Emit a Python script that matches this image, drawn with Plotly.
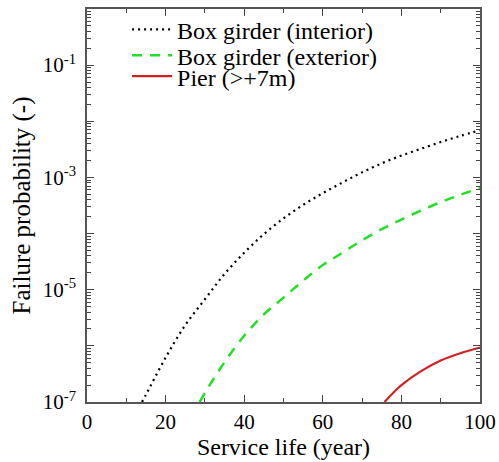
import plotly.graph_objects as go

# Service life (year) and failure probability (-)
years_interior = [14, 15, 20, 25, 30, 35, 40, 45, 50, 55, 60, 65, 70, 75, 80, 85, 90, 95, 100]
pf_interior = [1.0e-7, 1.35e-7, 6.17e-7, 2.34e-6, 6.76e-6, 1.91e-5, 4.57e-5, 9.77e-5, 1.86e-4,
               3.24e-4, 5.25e-4, 8.13e-4, 1.23e-3, 1.78e-3, 2.45e-3, 3.24e-3, 4.27e-3, 5.50e-3, 6.92e-3]

years_exterior = [28.7, 30, 35, 40, 45, 50, 55, 60, 65, 70, 75, 80, 85, 90, 95, 100]
pf_exterior = [1.0e-7, 1.45e-7, 5.13e-7, 1.51e-6, 3.63e-6, 7.24e-6, 1.45e-5, 2.75e-5, 4.57e-5,
               7.59e-5, 1.20e-4, 1.78e-4, 2.57e-4, 3.63e-4, 4.90e-4, 6.46e-4]

years_pier = [75.7, 78, 80, 85, 90, 95, 100]
pf_pier = [1.0e-7, 1.48e-7, 2.0e-7, 3.55e-7, 5.5e-7, 7.4e-7, 9.3e-7]

names = ["Box girder (interior)", "Box girder (exterior)", "Pier (>+7m)"]

y_tickvals = [1e-7, 1e-6, 1e-5, 1e-4, 1e-3, 1e-2, 1e-1, 1]
y_ticktext = ["10<sup>-7</sup>", "", "10<sup>-5</sup>", "", "10<sup>-3</sup>", "", "10<sup>-1</sup>", ""]
x_tickvals = [0, 20, 40, 60, 80, 100]

FONT = "Liberation Serif, Times New Roman, serif"

fig = go.Figure()
fig.add_trace(go.Scatter(x=years_interior, y=pf_interior, mode="lines", name=names[0],
                         legend="legend",
                         line=dict(color="black", width=2.2, dash="2px,4px", shape="spline")))
fig.add_trace(go.Scatter(x=years_exterior, y=pf_exterior, mode="lines", name=names[1],
                         legend="legend2",
                         line=dict(color="#22e022", width=2.5, dash="10px,8px", shape="spline")))
fig.add_trace(go.Scatter(x=years_pier, y=pf_pier, mode="lines", name=names[2],
                         legend="legend3",
                         line=dict(color="#d42020", width=2.2, shape="spline")))

minor_y = [m * 10.0 ** e for e in range(-7, 0) for m in range(2, 10)]

axis_common = dict(showgrid=False, zeroline=False, showline=True, linecolor="#555555",
                   linewidth=1.5, mirror="ticks", ticks="inside", tickcolor="#444444",
                   tickfont=dict(family=FONT, size=21, color="black"))

fig.update_xaxes(range=[0, 100], tickvals=x_tickvals, ticklen=7, tickwidth=1.2,
                 minor=dict(dtick=10, ticklen=4, tickcolor="#444444", ticks="inside", tickwidth=1),
                 title=dict(text="Service life (year)", font=dict(family=FONT, size=24, color="black"),
                            standoff=2),
                 **axis_common)
fig.update_yaxes(type="log", range=[-7, 0], tickvals=y_tickvals, ticktext=y_ticktext,
                 ticklen=7, tickwidth=1.2, ticklabelstandoff=5,
                 minor=dict(tickvals=minor_y, ticklen=4, tickcolor="#444444", ticks="inside", tickwidth=1),
                 title=dict(text="Failure probability (-)", font=dict(family=FONT, size=25, color="black"),
                            standoff=5),
                 **axis_common)

leg = dict(x=0.102, xanchor="left", yanchor="middle", bgcolor="rgba(0,0,0,0)", borderwidth=0,
           itemwidth=40, font=dict(family=FONT, size=24, color="black"))

fig.update_layout(
    width=499, height=462,
    margin=dict(l=87, r=19, t=9, b=60, autoexpand=False),
    plot_bgcolor="white", paper_bgcolor="white",
    font=dict(family=FONT, color="black"),
    showlegend=True,
    legend=dict(leg, y=0.947),
    legend2=dict(leg, y=0.881),
    legend3=dict(leg, y=0.828),
)

fig.write_html("out.html", config={"displayModeBar": False},
               post_script="document.body.style.margin='0px';")
